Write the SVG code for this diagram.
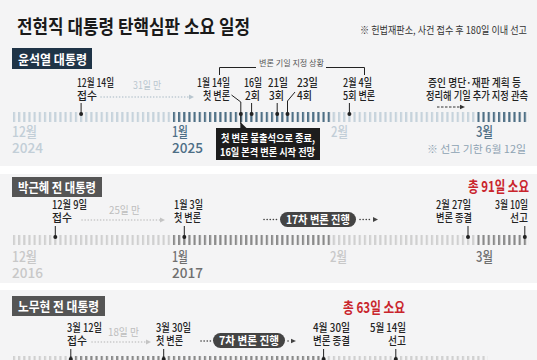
<svg xmlns="http://www.w3.org/2000/svg" width="537" height="360" viewBox="0 0 537 360">
<defs>
<style>
text{font-family:"Noto Sans CJK KR","Noto Sans",sans-serif}
.ev{font-size:11px;fill:#222;font-weight:500}
.lab{font-size:13px;fill:#fff;font-weight:700}
.gap1{font-size:10.5px;fill:#b9c6cf}
.gap2{font-size:10.5px;fill:#bdbdbd}
.mo{font-size:14px;font-weight:500}
.mk{stroke:#222;stroke-width:1;fill:none}
.dot{fill:#222}
.red{font-size:15px;font-weight:700;fill:#c9252c}
.pill{font-size:11px;font-weight:700;fill:#fff}
.da1{stroke:#b9c6cf;stroke-width:1.6;stroke-dasharray:0.1 3;stroke-linecap:round;fill:none}
.da2{stroke:#c4c4c4;stroke-width:1.6;stroke-dasharray:0.1 3;stroke-linecap:round;fill:none}
.dd{stroke:#444;stroke-width:1.6;stroke-dasharray:0.1 3;stroke-linecap:round;fill:none}
</style>
<pattern id="pB1" patternUnits="userSpaceOnUse" x="12.9" y="0" width="5.16" height="360"><rect x="0" y="0" width="2.2" height="360" fill="#c6d3dc"/></pattern>
<pattern id="pB2" patternUnits="userSpaceOnUse" x="12.9" y="0" width="5.16" height="360"><rect x="0" y="0" width="2.2" height="360" fill="#4f7086"/></pattern>
<pattern id="pG1" patternUnits="userSpaceOnUse" x="12.9" y="0" width="5.16" height="360"><rect x="0" y="0" width="2.2" height="360" fill="#d0d0d0"/></pattern>
<pattern id="pG2" patternUnits="userSpaceOnUse" x="12.9" y="0" width="5.16" height="360"><rect x="0" y="0" width="2.2" height="360" fill="#8a8a8a"/></pattern>
</defs>

<rect x="0" y="0" width="537" height="360" fill="#f4f4f5"/>
<rect x="0" y="166" width="537" height="8" fill="#ffffff"/>
<rect x="0" y="283" width="537" height="7" fill="#ffffff"/>

<text x="17" y="34" font-size="19.5" font-weight="700" fill="#1a1a1a" textLength="233" lengthAdjust="spacingAndGlyphs">전현직 대통령 탄핵심판 소요 일정</text>
<text x="527" y="34" font-size="10.5" fill="#333" text-anchor="end" textLength="167" lengthAdjust="spacingAndGlyphs">※ 헌법재판소, 사건 접수 후 180일 이내 선고</text>

<!-- Section 1 -->
<g id="sec1">
<g id="label1"><rect x="12" y="48" width="80" height="21" fill="#1f3447"/><text class="lab" x="18" y="64" textLength="69" lengthAdjust="spacingAndGlyphs">윤석열 대통령</text></g>
<g id="bracket1">
<path class="mk" d="M219.5,75 V67.5 H256 M326,67.5 H364.5 V75" stroke="#555"/>
<text x="259" y="66" font-size="8.5" fill="#555" textLength="65" lengthAdjust="spacingAndGlyphs">변론 기일 지정 상황</text>
</g>
<g id="ticks1">
<rect x="12.9" y="112" width="159.96" height="10" fill="url(#pB1)"/>
<rect x="172.86" y="112" width="159.96" height="10" fill="url(#pB2)"/>
<rect x="332.82" y="112" width="144.48" height="10" fill="url(#pB1)"/>
<rect x="477.3" y="112" width="51.6" height="10" fill="url(#pB2)"/>
</g>
<g id="months1">
<text class="mo" x="12" y="137" fill="#c2ced7" textLength="25" lengthAdjust="spacingAndGlyphs">12월</text>
<text class="mo" x="12" y="153" fill="#c2ced7" textLength="31" lengthAdjust="spacingAndGlyphs">2024</text>
<text class="mo" x="172" y="137" fill="#4d6e85" textLength="16" lengthAdjust="spacingAndGlyphs">1월</text>
<text class="mo" x="172" y="153" fill="#4d6e85" textLength="31" lengthAdjust="spacingAndGlyphs">2025</text>
<text class="mo" x="331" y="137" fill="#c2ced7" textLength="17" lengthAdjust="spacingAndGlyphs">2월</text>
<text class="mo" x="476" y="137" fill="#4d6e85" textLength="17" lengthAdjust="spacingAndGlyphs">3월</text>
<text x="526" y="153" font-size="10" fill="#8ea3b3" text-anchor="end" textLength="99" lengthAdjust="spacingAndGlyphs">※ 선고 기한 6월 12일</text>
</g>
<g id="e1-receipt"><text class="ev" x="77" y="87" textLength="37" lengthAdjust="spacingAndGlyphs">12월 14일</text><text class="ev" x="77" y="100" textLength="20" lengthAdjust="spacingAndGlyphs">접수</text><path class="mk" d="M81.1,103 V114"/><circle class="dot" cx="81.1" cy="114" r="2"/></g>
<g id="e1-gap"><text class="gap1" x="133" y="89" textLength="28" lengthAdjust="spacingAndGlyphs">31일 만</text></g>
<g id="e1-first"><text class="ev" x="197" y="87" textLength="33" lengthAdjust="spacingAndGlyphs">1월 14일</text><text class="ev" x="203" y="100" textLength="27" lengthAdjust="spacingAndGlyphs">첫 변론</text><path class="mk" d="M231.5,95 L240.8,102 V124"/><circle class="dot" cx="240.8" cy="114" r="2"/></g>
<g id="e1-2"><text class="ev" x="244" y="87" textLength="18" lengthAdjust="spacingAndGlyphs">16일</text><text class="ev" x="245" y="100" textLength="15" lengthAdjust="spacingAndGlyphs">2회</text><path class="mk" d="M251.6,103 V114"/><circle class="dot" cx="251.6" cy="114" r="2"/></g>
<g id="e1-3"><text class="ev" x="268" y="87" textLength="20" lengthAdjust="spacingAndGlyphs">21일</text><text class="ev" x="269" y="100" textLength="15" lengthAdjust="spacingAndGlyphs">3회</text><path class="mk" d="M277.2,103 V114"/><circle class="dot" cx="277.2" cy="114" r="2"/></g>
<g id="e1-4"><text class="ev" x="297" y="87" textLength="21" lengthAdjust="spacingAndGlyphs">23일</text><text class="ev" x="297" y="100" textLength="15" lengthAdjust="spacingAndGlyphs">4회</text><path class="mk" d="M295,92 L287.5,101 V114"/><circle class="dot" cx="287.5" cy="114" r="2"/></g>
<g id="e1-5"><text class="ev" x="343" y="87" textLength="29" lengthAdjust="spacingAndGlyphs">2월 4일</text><text class="ev" x="343" y="100" textLength="32" lengthAdjust="spacingAndGlyphs">5회 변론</text><path class="mk" d="M349.4,103 V114"/><circle class="dot" cx="349.4" cy="114" r="2"/></g>
<g id="e1-note"><text class="ev" x="521" y="87" font-size="10.5" text-anchor="end" textLength="93" lengthAdjust="spacingAndGlyphs">증인 명단·재판 계획 등</text><text class="ev" x="528" y="100" font-size="10.5" text-anchor="end" textLength="102" lengthAdjust="spacingAndGlyphs">정리해 기일 추가 지정 관측</text></g>
<g id="callout1">
<rect x="216" y="128" width="104" height="32" fill="#1d1d1d"/>
<polygon points="240.3,122 240.3,128.5 247,128.5" fill="#1d1d1d"/>
<text x="221" y="142" font-size="10.5" font-weight="700" fill="#fff" textLength="94" lengthAdjust="spacingAndGlyphs">첫 변론 불출석으로 종료,</text>
<text x="220" y="156" font-size="10.5" font-weight="700" fill="#fff" textLength="95" lengthAdjust="spacingAndGlyphs">16일 본격 변론 시작 전망</text>
</g>
</g>

<!-- Section 2 -->
<g id="sec2">
<g id="label2"><rect x="12" y="177" width="90" height="20" fill="#555"/><text class="lab" x="18" y="192" textLength="78" lengthAdjust="spacingAndGlyphs">박근혜 전 대통령</text></g>
<text class="red" x="529" y="192" text-anchor="end" textLength="61" lengthAdjust="spacingAndGlyphs">총 91일 소요</text>
<g id="ticks2">
<rect x="12.9" y="235" width="159.96" height="10" fill="url(#pG1)"/>
<rect x="172.86" y="235" width="159.96" height="10" fill="url(#pG2)"/>
<rect x="332.82" y="235" width="144.48" height="10" fill="url(#pG1)"/>
<rect x="477.3" y="235" width="51.6" height="10" fill="url(#pG2)"/>
</g>
<g id="months2">
<text class="mo" x="12" y="262" fill="#c8c8c8" textLength="25" lengthAdjust="spacingAndGlyphs">12월</text>
<text class="mo" x="12" y="278" fill="#c8c8c8" textLength="31" lengthAdjust="spacingAndGlyphs">2016</text>
<text class="mo" x="172" y="262" fill="#6f6f6f" textLength="16" lengthAdjust="spacingAndGlyphs">1월</text>
<text class="mo" x="172" y="278" fill="#6f6f6f" textLength="31" lengthAdjust="spacingAndGlyphs">2017</text>
<text class="mo" x="330" y="262" fill="#c8c8c8" textLength="17" lengthAdjust="spacingAndGlyphs">2월</text>
<text class="mo" x="476" y="262" fill="#6f6f6f" textLength="17" lengthAdjust="spacingAndGlyphs">3월</text>
</g>
<g id="e2-receipt"><text class="ev" x="52" y="209" textLength="35" lengthAdjust="spacingAndGlyphs">12월 9일</text><text class="ev" x="52" y="222" textLength="20" lengthAdjust="spacingAndGlyphs">접수</text><path class="mk" d="M55.3,226 V237"/><circle class="dot" cx="55.3" cy="237" r="2"/></g>
<g id="e2-gap"><text class="gap2" x="109" y="214" textLength="31" lengthAdjust="spacingAndGlyphs">25일 만</text></g>
<g id="e2-first"><text class="ev" x="174" y="209" textLength="29" lengthAdjust="spacingAndGlyphs">1월 3일</text><text class="ev" x="174" y="222" textLength="27" lengthAdjust="spacingAndGlyphs">첫 변론</text><path class="mk" d="M184.3,226 V237"/><circle class="dot" cx="184.3" cy="237" r="2"/></g>
<g id="e2-pill"><rect x="280" y="212" width="76" height="15" rx="7.5" fill="#444"/><text class="pill" x="286" y="223.5" textLength="64" lengthAdjust="spacingAndGlyphs">17차 변론 진행</text></g>
<g id="e2-end"><text class="ev" x="436" y="209" textLength="35" lengthAdjust="spacingAndGlyphs">2월 27일</text><text class="ev" x="436" y="222" textLength="36" lengthAdjust="spacingAndGlyphs">변론 종결</text><path class="mk" d="M468,226 V237"/><circle class="dot" cx="468" cy="237" r="2"/></g>
<g id="e2-verdict"><text class="ev" x="528" y="209" text-anchor="end" textLength="33" lengthAdjust="spacingAndGlyphs">3월 10일</text><text class="ev" x="528" y="222" text-anchor="end" textLength="18" lengthAdjust="spacingAndGlyphs">선고</text><path class="mk" d="M524.8,226 V237"/><circle class="dot" cx="524.8" cy="237" r="2"/></g>
</g>

<!-- Section 3 -->
<g id="sec3">
<g id="label3"><rect x="12" y="296" width="93" height="20" fill="#555"/><text class="lab" x="18" y="311" textLength="81" lengthAdjust="spacingAndGlyphs">노무현 전 대통령</text></g>
<text class="red" x="343" y="313" textLength="62" lengthAdjust="spacingAndGlyphs">총 63일 소요</text>
<g id="ticks3">
<rect x="12.9" y="356" width="56.76" height="10" fill="url(#pG1)"/>
<rect x="69.66" y="356" width="252.84" height="10" fill="url(#pG2)"/>
<rect x="322.5" y="356" width="165" height="10" fill="url(#pG1)"/>
</g>
<g id="e3-receipt"><text class="ev" x="67" y="332" textLength="35" lengthAdjust="spacingAndGlyphs">3월 12일</text><text class="ev" x="67" y="345" textLength="20" lengthAdjust="spacingAndGlyphs">접수</text><path class="mk" d="M70.8,349 V359"/><circle class="dot" cx="70.8" cy="359" r="2"/></g>
<g id="e3-gap"><text class="gap2" x="108" y="336" textLength="31" lengthAdjust="spacingAndGlyphs">18일 만</text></g>
<g id="e3-first"><text class="ev" x="156" y="332" textLength="35" lengthAdjust="spacingAndGlyphs">3월 30일</text><text class="ev" x="156" y="345" textLength="27" lengthAdjust="spacingAndGlyphs">첫 변론</text><path class="mk" d="M163.7,349 V359"/><circle class="dot" cx="163.7" cy="359" r="2"/></g>
<g id="e3-pill"><rect x="213" y="333" width="72" height="15" rx="7.5" fill="#444"/><text class="pill" x="219" y="344.5" textLength="60" lengthAdjust="spacingAndGlyphs">7차 변론 진행</text></g>
<g id="e3-end"><text class="ev" x="313" y="332" textLength="37" lengthAdjust="spacingAndGlyphs">4월 30일</text><text class="ev" x="313" y="345" textLength="37" lengthAdjust="spacingAndGlyphs">변론 종결</text><path class="mk" d="M323.6,349 V359"/><circle class="dot" cx="323.6" cy="359" r="2"/></g>
<g id="e3-verdict"><text class="ev" x="406" y="332" text-anchor="end" textLength="36" lengthAdjust="spacingAndGlyphs">5월 14일</text><text class="ev" x="406" y="345" text-anchor="end" textLength="18" lengthAdjust="spacingAndGlyphs">선고</text><path class="mk" d="M395.8,349 V359"/><circle class="dot" cx="395.8" cy="359" r="2"/></g>
</g>

<!-- connectors -->
<g id="connectors">
<path class="da1" d="M101,97 H189"/><polygon points="189,94.5 194,97 189,99.5" fill="#b9c6cf"/>
<path d="M437,107 H460" stroke="#333" stroke-width="1" stroke-dasharray="2.5 1.5" fill="none"/><polygon points="460,104.8 465,107 460,109.2" fill="#333"/>
<path class="da2" d="M82,220 H160"/><polygon points="160,217.5 165,220 160,222.5" fill="#c4c4c4"/>
<path class="dd" d="M264,219.5 H277"/>
<path class="dd" d="M360,219.5 H372"/><polygon points="373,217 378,219.5 373,222" fill="#444"/>
<path class="da2" d="M92,342 H146"/><polygon points="146,339.5 151,342 146,344.5" fill="#c4c4c4"/>
<path class="dd" d="M201,341 H211"/>
<path class="dd" d="M288,341 H289"/><polygon points="291,338.8 296,341 291,343.2" fill="#444"/>
</g>
</svg>
